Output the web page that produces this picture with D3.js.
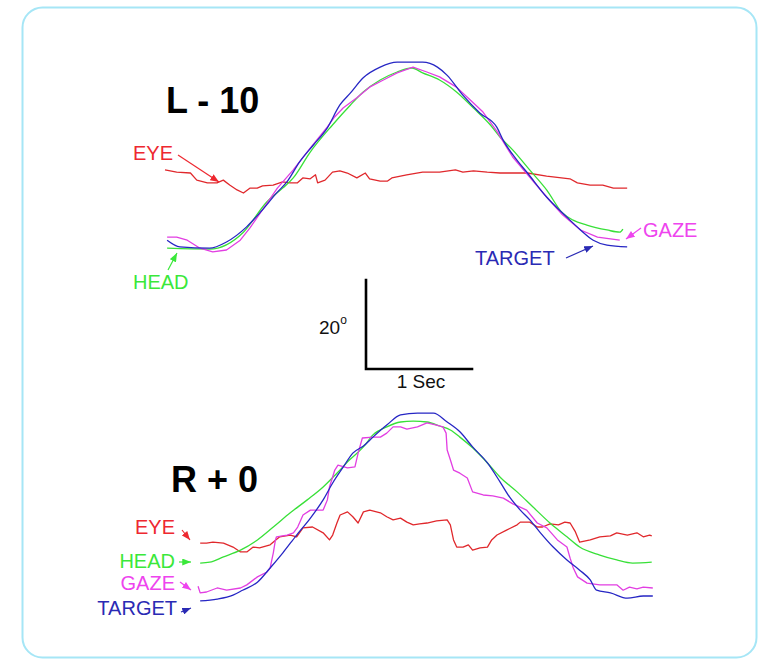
<!DOCTYPE html>
<html>
<head>
<meta charset="utf-8">
<script src="https://cdn.jsdelivr.net/npm/d3@7"></script>
<style>
  html, body { margin: 0; padding: 0; background: #ffffff; }
  svg { display: block; }
  text { font-family: "Liberation Sans", Arial, Helvetica, sans-serif; }
</style>
</head>
<body>
<svg id="chart" width="765" height="659"></svg>
<script>
// Horizontal head-free gaze shifts tracking a moving target.
// Each trace is [time (s), angle (deg)].

// ---- Trial "L - 10" ----
const l10Target = [[0.02,2.2],[0.14,0.7],[0.42,0.4],[0.58,1.8],[0.77,5.2],[0.90,8.5],[1.06,13.0],[1.15,15.3],[1.27,19.8],[1.40,23.6],[1.53,27.4],[1.65,32.6],[1.75,35.3],[1.87,38.7],[2.03,41.1],[2.19,42.2],[2.43,42.2],[2.57,41.1],[2.66,39.3],[2.81,34.8],[2.97,30.8],[3.13,27.6],[3.19,24.7],[3.32,20.2],[3.42,17.3],[3.60,11.9],[3.79,7.4],[3.92,4.5],[4.04,2.2],[4.17,1.1],[4.36,0.7]];
const l10Head = [[0.02,0.4],[0.42,0.2],[0.74,4.0],[0.96,10.8],[1.11,13.9],[1.21,16.2],[1.37,22.0],[1.58,28.1],[1.75,32.6],[1.87,35.5],[2.03,38.2],[2.19,40.0],[2.33,40.9],[2.43,39.8],[2.59,38.2],[2.75,35.5],[2.91,31.9],[3.07,28.1],[3.16,25.4],[3.28,22.5],[3.44,18.0],[3.60,13.5],[3.75,8.3],[3.85,6.7],[3.98,5.6],[4.17,4.5],[4.29,4.0],[4.32,4.7]];
const l10Gaze = [[0.02,2.9],[0.11,2.9],[0.21,2.2],[0.33,0.4],[0.45,-0.4],[0.58,0.0],[0.71,2.2],[0.80,4.9],[1.06,13.9],[1.21,18.0],[1.37,22.9],[1.53,27.6],[1.60,29.9],[1.68,31.9],[1.81,34.2],[1.93,36.6],[2.06,38.2],[2.19,39.8],[2.34,41.1],[2.47,40.0],[2.59,38.9],[2.75,36.6],[2.88,33.7],[3.00,31.0],[3.13,26.7],[3.28,20.9],[3.44,16.4],[3.60,11.9],[3.75,7.9],[3.92,4.5],[4.08,2.9],[4.29,2.2]];
const l10Eye = [[0.00,18.0],[0.11,17.5],[0.24,17.3],[0.30,15.7],[0.40,15.1],[0.49,15.1],[0.55,15.7],[0.61,14.6],[0.68,13.5],[0.74,12.8],[0.80,13.9],[0.87,13.9],[0.92,14.4],[1.02,14.6],[1.11,15.3],[1.18,15.1],[1.25,15.1],[1.30,16.2],[1.37,16.0],[1.42,16.9],[1.44,15.1],[1.51,15.7],[1.58,17.5],[1.65,17.8],[1.72,17.3],[1.81,16.2],[1.89,17.3],[1.93,16.0],[2.03,15.5],[2.10,15.5],[2.14,16.2],[2.28,16.9],[2.43,17.5],[2.59,17.5],[2.74,18.0],[2.81,17.5],[2.91,17.8],[3.04,17.5],[3.16,17.3],[3.42,17.3],[3.60,16.6],[3.82,16.0],[3.89,15.1],[4.01,14.6],[4.13,14.6],[4.23,13.9],[4.36,13.9]];

// ---- Trial "R + 0" ----
const r0Target = [[0.03,-0.2],[0.19,0.2],[0.34,1.1],[0.43,2.2],[0.57,4.0],[0.69,7.2],[0.81,10.6],[0.94,14.6],[1.07,18.4],[1.19,22.5],[1.28,26.3],[1.38,29.9],[1.47,33.0],[1.57,34.6],[1.66,36.6],[1.79,39.3],[1.92,41.6],[2.08,42.0],[2.23,42.0],[2.36,40.0],[2.48,37.8],[2.60,34.4],[2.74,30.8],[2.86,26.5],[2.95,23.1],[3.05,20.2],[3.14,18.0],[3.24,15.1],[3.36,11.9],[3.49,9.0],[3.61,6.7],[3.71,4.5],[3.77,2.2],[3.90,1.6],[4.06,0.4],[4.21,0.9],[4.30,0.9]];
const r0Head = [[0.03,8.3],[0.12,8.5],[0.25,9.7],[0.41,11.2],[0.57,13.5],[0.72,16.4],[0.88,19.6],[1.04,22.5],[1.19,25.4],[1.32,28.5],[1.44,31.5],[1.57,34.4],[1.66,37.1],[1.79,38.9],[1.92,40.0],[2.04,40.2],[2.17,40.0],[2.29,39.1],[2.39,38.2],[2.48,36.6],[2.60,34.2],[2.74,30.8],[2.86,27.6],[3.02,24.3],[3.17,20.9],[3.33,17.3],[3.49,14.2],[3.61,11.9],[3.80,10.1],[3.96,9.0],[4.11,8.3],[4.29,8.5]];
const r0Gaze = [[0.01,3.1],[0.03,1.6],[0.09,1.8],[0.19,2.7],[0.28,2.2],[0.41,2.7],[0.47,3.4],[0.57,5.2],[0.66,6.3],[0.69,7.2],[0.72,10.6],[0.74,13.5],[0.75,14.2],[0.85,14.6],[0.91,15.1],[0.95,16.4],[1.00,19.1],[1.07,20.2],[1.19,20.2],[1.23,22.5],[1.25,25.4],[1.30,29.2],[1.33,30.3],[1.42,29.7],[1.49,29.9],[1.52,33.0],[1.56,36.4],[1.66,36.6],[1.73,36.6],[1.79,37.5],[1.85,38.9],[1.92,38.9],[1.98,38.4],[2.08,38.9],[2.17,39.8],[2.26,39.3],[2.32,38.9],[2.35,37.5],[2.36,33.7],[2.39,31.5],[2.42,29.2],[2.48,28.5],[2.55,27.4],[2.60,24.3],[2.70,23.6],[2.79,23.4],[2.89,22.9],[2.98,21.6],[3.11,20.2],[3.21,17.3],[3.30,16.2],[3.40,13.5],[3.49,11.9],[3.52,9.4],[3.55,7.2],[3.59,5.2],[3.68,3.8],[3.80,3.4],[3.96,3.4],[4.02,2.2],[4.08,2.9],[4.15,2.5],[4.21,2.9],[4.30,2.7]];
const r0Eye = [[0.03,12.8],[0.09,12.8],[0.15,13.0],[0.25,12.8],[0.34,11.9],[0.41,10.8],[0.47,10.8],[0.53,11.9],[0.59,11.7],[0.69,12.4],[0.78,14.2],[0.88,14.6],[0.94,14.2],[1.00,16.2],[1.09,16.4],[1.19,15.1],[1.25,13.5],[1.28,14.6],[1.32,17.3],[1.35,19.1],[1.42,19.8],[1.47,18.7],[1.52,17.3],[1.57,19.8],[1.63,20.2],[1.73,19.6],[1.79,18.7],[1.85,18.0],[1.92,18.4],[1.98,17.5],[2.04,16.9],[2.10,17.1],[2.17,17.3],[2.26,17.8],[2.36,18.0],[2.39,16.9],[2.42,13.5],[2.45,11.9],[2.51,11.9],[2.56,12.4],[2.60,11.2],[2.67,11.7],[2.74,11.9],[2.78,13.5],[2.83,14.6],[2.92,15.7],[3.02,16.9],[3.05,17.5],[3.14,17.5],[3.21,16.4],[3.26,16.4],[3.33,17.1],[3.41,16.9],[3.47,17.5],[3.52,17.3],[3.57,15.3],[3.61,13.0],[3.71,13.5],[3.80,14.2],[3.90,14.4],[3.96,15.1],[4.06,14.6],[4.15,15.1],[4.21,14.2],[4.27,14.6],[4.29,14.4]];

// Trial titles, trace names and the calibration bar
const trialTitles = ["L - 10", "R + 0"];
const traceNames = ["EYE", "HEAD", "GAZE", "TARGET"];
const calibDegrees = 20;
const calibSeconds = 1;

// ---- drawing ----
const colors = { EYE: "#e0282c", HEAD: "#38e038", GAZE: "#e23ee2", TARGET: "#2626c4" };
const labelColors = { EYE: "#ee2830", HEAD: "#3ae83a", GAZE: "#ee44ee", TARGET: "#2a2ab4" };

const PX_PER_SEC = 106;
const PX_PER_DEG = 89 / 20;

const svg = d3.select("#chart");

// rounded frame
svg.append("rect")
  .attr("x", 22.5).attr("y", 7.5)
  .attr("width", 734).attr("height", 650)
  .attr("rx", 20).attr("ry", 20)
  .attr("fill", "#ffffff")
  .attr("stroke", "#a6e6f6")
  .attr("stroke-width", 2);

// arrowhead markers
const defs = svg.append("defs");
traceNames.forEach(n => {
  defs.append("marker")
    .attr("id", "arrow-" + n)
    .attr("viewBox", "0 0 10 8")
    .attr("refX", 10).attr("refY", 4)
    .attr("markerWidth", 9).attr("markerHeight", 7)
    .attr("markerUnits", "userSpaceOnUse")
    .attr("orient", "auto")
    .append("path")
    .attr("d", "M0,0 L10,4 L0,8 z")
    .attr("fill", labelColors[n]);
});

function makeScales(x0, y0) {
  const x = d3.scaleLinear().domain([0, 1]).range([x0, x0 + PX_PER_SEC]);
  const y = d3.scaleLinear().domain([0, 20]).range([y0, y0 - 20 * PX_PER_DEG]);
  return { x, y };
}

function drawPanel(g, sc, series) {
  series.forEach(s => {
    const line = d3.line()
      .x(d => sc.x(d[0]))
      .y(d => sc.y(d[1]))
      .curve(s.smooth ? d3.curveMonotoneX : d3.curveLinear);
    g.append("path")
      .datum(s.data)
      .attr("d", line)
      .attr("fill", "none")
      .attr("stroke", colors[s.name])
      .attr("stroke-width", 1.3)
      .attr("stroke-linejoin", "round");
  });
}

// upper trial
const upperScales = makeScales(165, 250);
const gUpper = svg.append("g");
drawPanel(gUpper, upperScales, [
  { name: "EYE", data: l10Eye },
  { name: "HEAD", data: l10Head, smooth: true },
  { name: "GAZE", data: l10Gaze },
  { name: "TARGET", data: l10Target, smooth: true }
]);

// lower trial
const lowerScales = makeScales(197, 600);
const gLower = svg.append("g");
drawPanel(gLower, lowerScales, [
  { name: "EYE", data: r0Eye },
  { name: "HEAD", data: r0Head, smooth: true },
  { name: "GAZE", data: r0Gaze },
  { name: "TARGET", data: r0Target, smooth: true }
]);

// trial titles
svg.append("text").attr("x", 166).attr("y", 113)
  .attr("font-size", 36).attr("font-weight", "bold").attr("fill", "#000")
  .text(trialTitles[0]);
svg.append("text").attr("x", 171).attr("y", 492)
  .attr("font-size", 36).attr("font-weight", "bold").attr("fill", "#000")
  .text(trialTitles[1]);

// trace labels with pointer arrows
function label(name, x, y, anchor) {
  svg.append("text").attr("x", x).attr("y", y)
    .attr("font-size", 20).attr("text-anchor", anchor || "start")
    .attr("fill", labelColors[name]).text(name);
}
function pointer(name, x1, y1, x2, y2) {
  svg.append("line")
    .attr("x1", x1).attr("y1", y1).attr("x2", x2).attr("y2", y2)
    .attr("stroke", labelColors[name]).attr("stroke-width", 1.2)
    .attr("marker-end", "url(#arrow-" + name + ")");
}

label("EYE", 133, 160);
pointer("EYE", 178, 155, 219, 182);
label("HEAD", 133, 289);
pointer("HEAD", 168, 270, 177, 253);
label("TARGET", 475, 265);
pointer("TARGET", 566, 258, 593, 246);
label("GAZE", 643, 237);
pointer("GAZE", 641, 228, 626, 239);

label("EYE", 175, 534, "end");
pointer("EYE", 182, 530, 190, 540);
label("HEAD", 175, 568, "end");
pointer("HEAD", 179, 562, 191, 562);
label("GAZE", 175, 590, "end");
pointer("GAZE", 180, 582, 191, 590);
label("TARGET", 177, 615, "end");
pointer("TARGET", 181, 612, 191, 608);

// calibration bar: 20 deg by 1 s
const cx = d3.scaleLinear().domain([0, 1]).range([366, 366 + PX_PER_SEC]);
const cy = d3.scaleLinear().domain([0, 20]).range([369, 369 - 20 * PX_PER_DEG]);
svg.append("path")
  .attr("d", `M${cx(0)},${cy(calibDegrees)} V${cy(0)} H${cx(calibSeconds)}`)
  .attr("fill", "none").attr("stroke", "#000").attr("stroke-width", 2.6)
  .attr("stroke-linecap", "square");

const degLabel = svg.append("text").attr("x", 319).attr("y", 334)
  .attr("font-size", 19).attr("fill", "#111");
degLabel.append("tspan").text(String(calibDegrees));
degLabel.append("tspan").attr("font-size", 12).attr("dy", -10).text("o");

svg.append("text").attr("x", 421).attr("y", 388)
  .attr("font-size", 19).attr("text-anchor", "middle").attr("fill", "#111")
  .text(calibSeconds + " Sec");
</script>
</body>
</html>
